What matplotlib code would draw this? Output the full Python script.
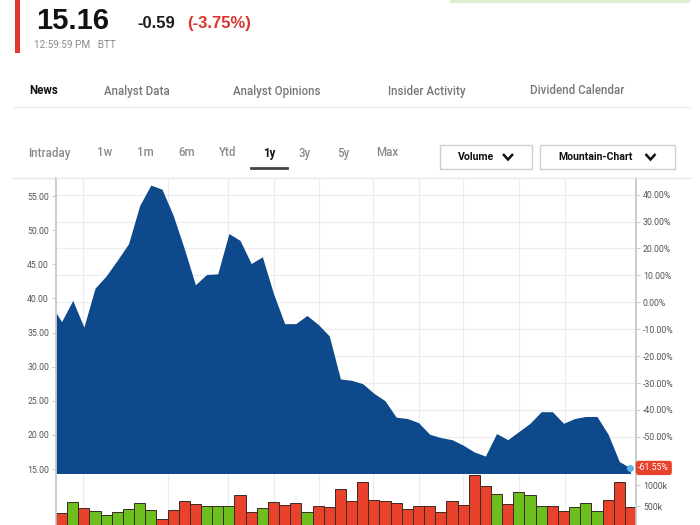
import matplotlib
matplotlib.use("Agg")
import matplotlib.pyplot as plt
from matplotlib.patches import Rectangle
from matplotlib.transforms import blended_transform_factory
import numpy as np

plt.rcParams['font.family'] = ['Roboto', 'DejaVu Sans']

# weekly closes, oldest first (last one is the current quote)
price_start = 37.9
price = [36.6, 39.7, 35.8, 41.5, 43.3, 45.6, 48.0, 53.6, 56.6, 56.0,
         52.2, 47.3, 42.0, 43.5, 43.6, 49.5, 48.5, 45.1, 46.1, 40.7,
         36.3, 36.3, 37.5, 36.2, 34.5, 28.2, 28.0, 27.5, 26.1, 25.0,
         22.6, 22.4, 21.8, 20.1, 19.6, 19.3, 18.5, 17.5, 16.9, 20.2,
         19.3, 20.5, 21.7, 23.4, 23.4, 21.7, 22.4, 22.7, 22.7, 20.1,
         16.1, 15.16]
# weekly volume in thousands, R = down week, G = up week
volume = [326, 595, 445, 389, 278, 349, 421, 563, 397, 190,
          397, 619, 548, 508, 508, 492, 754, 365, 445, 595,
          532, 563, 365, 508, 476, 905, 619, 1079, 635, 611,
          563, 421, 500, 508, 357, 611, 532, 1246, 968, 786,
          548, 825, 762, 500, 500, 373, 468, 571, 373, 635,
          1079, 484]
direction = "RGRGGGGGGRRRRGGGRRGRRRGRRRRRRRRRRRRRRRRGRGGGRRGGGRRR"
month_lines = [1.9, 9.5, 14.9, 19.0, 23.1, 27.9, 32.0, 36.0, 41.0, 45.1]

price_ticks = [15, 20, 25, 30, 35, 40, 45, 50, 55]
pct_ticks = [-50, -40, -30, -20, -10, 0, 10, 20, 30, 40]
vol_ticks = [500, 1000]
vol_labels = ["500k", "1000k"]

last_price = 15.16
change = -0.59
change_pct = -3.75
total_pct = -61.55
base = last_price / (1 + total_pct / 100)

nav_items = ["News", "Analyst Data", "Analyst Opinions", "Insider Activity", "Dividend Calendar"]
nav_x = [29, 104, 233, 388, 530]
range_items = ["Intraday", "1w", "1m", "6m", "Ytd", "1y", "3y", "5y", "Max"]
range_x = [28, 97, 137, 178, 219, 263, 299, 337, 376]

blue = "#0e4a8b"
red = "#e8412c"
green = "#6cbf1c"
grid_c = "#ececec"
axis_c = "#c4c4c4"
label_c = "#555555"

W, H = 700, 525
fig = plt.figure(figsize=(7, 5.25), dpi=100)


def box(l, t, r, b):
    return [l / W, 1 - b / H, (r - l) / W, (b - t) / H]


# page furniture in pixel coordinates
page = fig.add_axes([0, 0, 1, 1])
page.set_xlim(0, W)
page.set_ylim(H, 0)
page.axis('off')

page.add_patch(Rectangle((15, 0), 5, 53, color="#e03a2e", lw=0))
page.add_patch(Rectangle((450, 0), 240, 3, color="#dcefd2", lw=0))
page.text(36, 29, f"{last_price:.2f}", fontsize=21, fontweight='bold',
          color='#111111', va='baseline', family=['Liberation Sans', 'DejaVu Sans'])
page.text(137, 28, f"{change:.2f}", fontsize=12, fontweight='bold',
          color='#1a1a1a', va='baseline', family=['Liberation Sans', 'DejaVu Sans'])
page.text(187, 28, f"({change_pct:.2f}%)", fontsize=12, fontweight='bold',
          color='#d9342b', va='baseline', family=['Liberation Sans', 'DejaVu Sans'])
page.text(34, 45, "12:59:59 PM   BTT", fontsize=7.2, color='#8a8a8a', va='center')

for name, x in zip(nav_items, nav_x):
    first = name == "News"
    page.text(x, 91, name, fontsize=8.3, va='center',
              fontweight='bold' if first else 'medium',
              color='#111111' if first else '#777777')
page.plot([14, 690], [107, 107], color='#ebebeb', lw=1)

for name, x in zip(range_items, range_x):
    sel = name == "1y"
    page.text(x, 153, name, fontsize=8.3, va='center',
              fontweight='bold' if sel else 'medium',
              color='#111111' if sel else '#8a8a8a')
page.plot([251, 287], [168, 168], color='#444444', lw=2)

page.add_patch(Rectangle((440, 145), 92, 24, fc='white', ec='#cfcfcf', lw=1))
page.add_patch(Rectangle((540, 145), 135, 24, fc='white', ec='#cfcfcf', lw=1))
page.text(458, 157, "Volume", fontsize=7.6, fontweight='bold', va='center', color='#111111')
page.text(558, 157, "Mountain-Chart", fontsize=7.6, fontweight='bold', va='center', color='#111111')
for cx in (508, 650.5):
    page.plot([cx - 5, cx, cx + 5], [154, 159.5, 154], color='#111111', lw=1.8,
              solid_capstyle='butt', solid_joinstyle='miter')
page.plot([12, 690], [177.5, 177.5], color='#e6e6e6', lw=1)

# price pane
ax = fig.add_axes(box(56, 178, 636, 474))
y_lo, y_hi = 14.27, 57.64
x_price = np.concatenate([[-0.5], np.arange(len(price))])
y_price = np.concatenate([[price_start], price])
ax.fill_between(x_price, y_price, 0, color=blue, lw=0, zorder=2)
for p in pct_ticks:
    ax.axhline(base * (1 + p / 100), color=grid_c, lw=0.8, zorder=0)
for m in month_lines:
    ax.axvline(m, color=grid_c, lw=0.8, zorder=0)
ax.plot(len(price) - 1, last_price, 'o', ms=4, color='#5bb4e8', zorder=4, clip_on=False)
ax.set_xlim(-0.5, len(price) - 0.5)
ax.set_ylim(y_lo, y_hi)
ax.set_xticks([])
ax.set_yticks(price_ticks)
ax.set_yticklabels([f"{v:.2f}" for v in price_ticks])
ax.tick_params(axis='y', labelsize=6.3, labelcolor=label_c, length=3, color='#cccccc', pad=2)
for s in ('left', 'right'):
    ax.spines[s].set_color(axis_c)
    ax.spines[s].set_linewidth(1.2)
ax.spines['top'].set_color('#e6e6e6')
ax.spines['bottom'].set_visible(False)

ax2 = ax.twinx()
ax2.set_ylim((y_lo / base - 1) * 100, (y_hi / base - 1) * 100)
ax2.set_yticks(pct_ticks)
ax2.set_yticklabels([f"{p:.2f}%" for p in pct_ticks])
ax2.tick_params(axis='y', labelsize=6.3, labelcolor=label_c, length=3, color='#cccccc', pad=2)
for s in ax2.spines.values():
    s.set_visible(False)
tr = blended_transform_factory(ax2.transAxes, ax2.transData)
ax2.text(1.004, total_pct, f"{total_pct:.2f}%", transform=tr, fontsize=6.3,
         color='white', va='center', ha='left', zorder=5, clip_on=False,
         bbox=dict(boxstyle='round,pad=0.3', fc=red, ec='none'))

# volume pane
axv = fig.add_axes(box(56, 474, 636, 527))
colors = [red if d == "R" else green for d in direction]
axv.bar(np.arange(len(volume)), volume, width=1.0, color=colors,
        edgecolor='#3a2a20', lw=0.7, zorder=2)
for m in month_lines:
    axv.axvline(m, color=grid_c, lw=0.8, zorder=0)
axv.set_xlim(-0.5, len(volume) - 0.5)
axv.set_ylim(0, 1262)
axv.set_xticks([])
axv.yaxis.tick_right()
axv.set_yticks(vol_ticks)
axv.set_yticklabels(vol_labels)
axv.tick_params(axis='y', labelsize=6.3, labelcolor=label_c, length=3, color='#cccccc', pad=2)
for s in ('left', 'right'):
    axv.spines[s].set_color(axis_c)
    axv.spines[s].set_linewidth(1.2)
axv.spines['top'].set_visible(False)
axv.spines['bottom'].set_visible(False)

fig.savefig("out.png", dpi=100)
